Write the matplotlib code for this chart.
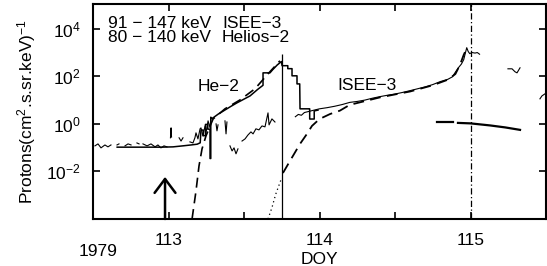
import numpy as np
import matplotlib
matplotlib.use("Agg")
import matplotlib.pyplot as plt

plt.rcParams['font.family'] = ['Liberation Sans', 'DejaVu Sans']
plt.rcParams['mathtext.fontset'] = 'custom'
plt.rcParams['mathtext.rm'] = 'Liberation Sans'
plt.rcParams['mathtext.it'] = 'Liberation Sans:italic'
plt.rcParams['mathtext.default'] = 'regular'
plt.rcParams['axes.unicode_minus'] = True

nan = np.nan

# ---- ISEE-3 91-147 keV (thin, noisy, with gaps) ----
isee_day = [112.513, 112.533, 112.553, 112.579, 112.599, 112.619, nan,
            112.659, 112.672, nan,
            112.712, 112.732, 112.752, nan,
            112.791, 112.805, nan,
            112.831, 112.858, 112.884, 112.911, 112.930, 112.950, 112.970, 112.990, nan,
            113.013, 113.017, 113.020, nan,
            113.070, 113.083, 113.096, nan,
            113.142, 113.162, 113.175, 113.182, 113.195, 113.209, 113.215, 113.228,
            113.242, 113.248, 113.262, 113.275, 113.281, nan,
            113.315, 113.321, 113.328, nan,
            113.374, 113.381, 113.387, nan,
            113.407, 113.421, 113.434, 113.447, 113.460, nan,
            113.487, 113.507, 113.526, 113.546, 113.560, 113.579, 113.599, 113.619,
            113.639, 113.659, 113.666, 113.685, 113.705, nan,
            113.840, 113.860, 113.880, 113.900, 113.950, 114.000, 114.050, 114.100,
            114.150, 114.200, 114.250, 114.300, 114.350, 114.400, 114.450, 114.500,
            114.550, 114.600, 114.650, 114.700, 114.750, 114.800, 114.850, 114.880,
            114.900, 114.920, 114.940, 114.955, 114.965, 114.975, 114.985, 114.995,
            115.010, 115.030, 115.045, 115.060, nan,
            115.248, 115.275, 115.295, 115.308, 115.328, nan,
            115.460, 115.473, 115.493]
isee_flux = [0.119, 0.144, 0.098, 0.13, 0.108, 0.13, nan,
             0.13, 0.144, nan,
             0.119, 0.144, 0.13, nan,
             0.158, 0.144, nan,
             0.144, 0.119, 0.144, 0.108, 0.13, 0.098, 0.119, 0.108, nan,
             0.26, 0.68, 0.28, nan,
             0.26, 0.19, 0.26, nan,
             0.175, 0.158, 0.26, 0.42, 0.234, 0.62, 0.68, 0.31,
             0.82, 0.42, 1.34, 0.68, 1.79, nan,
             1.0, 0.51, 0.91, nan,
             1.34, 0.38, 1.2, nan,
             0.119, 0.073, 0.098, 0.055, 0.089, nan,
             0.19, 0.234, 0.34, 0.46, 0.38, 0.62, 0.56, 0.82,
             0.75, 2.9, 0.91, 1.62, 1.2, nan,
             2.0, 2.5, 2.3, 3.0, 3.6, 4.3, 4.8, 5.5,
             6.5, 8.0, 8.8, 10.0, 12.0, 14.0, 16.0, 18.0,
             21.0, 25.0, 30.0, 36.0, 45.0, 60.0, 75.0, 95.0,
             150.0, 230.0, 330.0, 500.0, 900.0, 1600.0, 1100.0, 900.0,
             1000.0, 950.0, 1000.0, 850.0, nan,
             207.0, 207.0, 155.0, 140.0, 228.0, nan,
             11.3, 15.0, 18.3]

# ---- Helios-2 80-140 keV (histogram-like solid) ----
he2_day = [112.66, 112.75, 112.85, 112.95, 113.03, 113.10, 113.15, 113.19, 113.21,
           113.215, 113.23, 113.23, 113.245, 113.245, 113.26, 113.26, 113.275,
           113.275, 113.28, 113.28, 113.29, 113.33, 113.37, 113.41, 113.454,
           113.50, 113.54, 113.59, 113.626, 113.626, 113.672, 113.69, 113.72,
           113.748, 113.752, 113.79, 113.79, 113.818, 113.818, 113.851, 113.851,
           113.869, 113.871, 113.93, 113.935, 113.935, 113.965, 113.965, 113.99]
he2_flux = [0.105, 0.105, 0.105, 0.105, 0.108, 0.12, 0.13, 0.14, 0.16,
            0.55, 0.55, 0.32, 0.32, 0.95, 0.95, 0.6, 0.6,
            0.035, 0.035, 1.9, 1.7, 2.6, 3.7, 5.3, 7.7,
            11.0, 15.0, 28.0, 42.0, 140.0, 140.0, 190.0, 300.0,
            420.0, 280.0, 280.0, 210.0, 210.0, 105.0, 105.0, 48.0,
            48.0, 4.3, 4.3, 4.3, 1.6, 1.6, 3.5, 3.8]

# Helios-2 later segments
he2_late1_day = [114.778, 114.884]
he2_late1_flux = [1.2, 1.2]
he2_late2_day = [114.917, 115.0, 115.13, 115.23, 115.328]
he2_late2_flux = [1.1, 1.05, 0.86, 0.71, 0.56]

# ---- Model curves ----
he2_model_day = [113.156, 113.182, 113.202, 113.222, 113.248, 113.295, 113.374,
                 113.474, 113.573, 113.659, 113.738]
he2_model_flux = [1e-4, 1.5e-3, 0.017, 0.089, 0.31, 1.6, 4.3, 10.2, 30.0, 127.0, 450.0]

isee_model_dot_day = [113.659, 113.685, 113.71, 113.75]
isee_model_dot_flux = [1e-4, 3e-4, 1.1e-3, 5.5e-3]
isee_model_day = [113.758, 113.805, 113.871, 113.917, 113.95, 114.0, 114.07, 114.135,
                  114.2, 114.4, 114.6, 114.75, 114.85, 114.9, 114.93, 114.955, 114.965]
isee_model_flux = [8.6e-3, 0.028, 0.144, 0.38, 0.82, 1.6, 2.6, 3.6,
                   6.3, 13.0, 23.0, 42.0, 72.0, 125.0, 300.0, 800.0, 1100.0]

event_day = 113.75
event_top = 900.0
shock_day = 115.0
arrow_day = 112.977
arrow_tip = 5.9e-3

xticks = [113, 113.5, 114, 114.5, 115]
xticklabels = ['113', '', '114', '', '115']
yticks = [1e-2, 1e0, 1e2, 1e4]

FS = 12.5

fig = plt.figure(figsize=(5.47, 2.66), dpi=100)
ax = fig.add_axes([93/547, 47/266, 453/547, 215/266])

ax.plot(isee_day, isee_flux, color='black', lw=0.8)
ax.plot(he2_day, he2_flux, color='black', lw=1.1)
ax.plot(he2_late1_day, he2_late1_flux, color='black', lw=1.6)
ax.plot(he2_late2_day, he2_late2_flux, color='black', lw=1.6)
l1, = ax.plot(he2_model_day, he2_model_flux, color='black', lw=1.2)
l1.set_dashes((6, 3.5))
ax.plot(isee_model_dot_day, isee_model_dot_flux, color='black', lw=0.9, ls=(0, (1, 2.5)))
l2, = ax.plot(isee_model_day, isee_model_flux, color='black', lw=1.3)
l2.set_dashes((6, 3.5))

ax.vlines(event_day, 1e-4, event_top, color='black', lw=0.9)
ax.axvline(shock_day, color='black', lw=0.9, dashes=(5, 2, 1, 2))

ax.annotate('', xy=(arrow_day, arrow_tip), xytext=(arrow_day, 1e-4),
            arrowprops=dict(arrowstyle='->,head_length=1.0,head_width=0.75',
                            lw=1.8, color='black', shrinkA=0, shrinkB=0))

ax.set_yscale('log')
ax.set_xlim(112.5, 115.5)
ax.set_ylim(1e-4, 1.1e5)
ax.set_xticks(xticks)
ax.set_xticklabels(xticklabels)
ax.set_yticks(yticks)
ax.yaxis.set_minor_locator(matplotlib.ticker.NullLocator())
ax.tick_params(direction='in', length=5, width=1.2, top=True, right=True,
               labelsize=FS)
ax.tick_params(axis='x', pad=10)
ax.tick_params(axis='y', pad=9)
for s in ax.spines.values():
    s.set_linewidth(1.5)

ax.text(0.033, 0.823, '91 \u2212 147 keV\n80 \u2212 140 keV', transform=ax.transAxes,
        fontsize=FS, linespacing=0.95, va='baseline')
ax.text(0.285, 0.823, 'ISEE\u22123\nHelios\u22122', transform=ax.transAxes,
        fontsize=FS, linespacing=0.95, va='baseline')
ax.text(113.195, 24.5, 'He\u22122', fontsize=FS)
ax.text(114.12, 27.0, 'ISEE\u22123', fontsize=FS)

ax.set_xlabel('DOY', fontsize=FS)
ax.xaxis.set_label_coords(0.5, -0.155)
ax.set_ylabel('Protons(cm$^2$.s.sr.keV)$^{-1}$', fontsize=FS)
ax.yaxis.set_label_coords(-0.122, 0.5)
fig.text(98/547, 1 - 251.5/266, '1979', ha='center', va='center', fontsize=FS)

fig.savefig('out.png', dpi=100)
